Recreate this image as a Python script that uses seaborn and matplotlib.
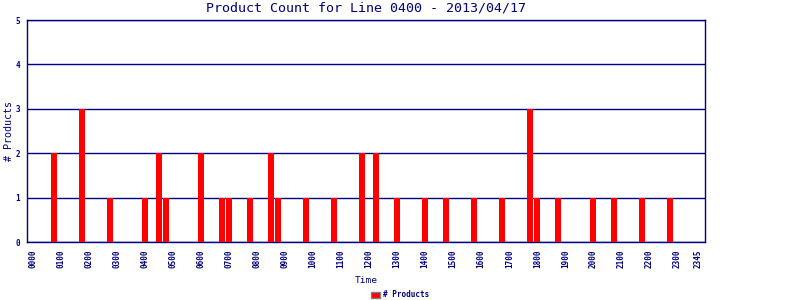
import matplotlib
matplotlib.use("Agg")
import matplotlib.pyplot as plt
import seaborn as sns
import pandas as pd
from matplotlib.patches import Patch

# 15-minute slots of the day and the product counts
slot_labels = [f"{h:02d}{m:02d}" for h in range(24) for m in (0, 15, 30, 45)]
hit_times = ["0045", "0145", "0245", "0400", "0430", "0445", "0600", "0645",
             "0700", "0745", "0830", "0845", "0945", "1045", "1145", "1215",
             "1300", "1400", "1445", "1545", "1645", "1745", "1800", "1845",
             "2000", "2045", "2145", "2245"]
hit_counts = [2, 3, 1, 1, 2, 1, 2, 1,
              1, 1, 2, 1, 1, 1, 2, 2,
              1, 1, 1, 1, 1, 3, 1, 1,
              1, 1, 1, 1]
tick_labels = [f"{h:02d}00" for h in range(24)] + ["2345"]

counts = dict(zip(hit_times, hit_counts))
df = pd.DataFrame({"Time": slot_labels,
                   "Products": [counts.get(t, 0) for t in slot_labels]})

NAVY = "#000080"
sns.set_theme(style="white")
plt.rcParams["font.family"] = ["DejaVu Sans Mono", "DejaVu Sans"]

fig = plt.figure(figsize=(8, 3), dpi=100)
ax = fig.add_axes([0.0334, 0.193, 0.8483, 0.740])

sns.barplot(data=df, x="Time", y="Products", order=slot_labels, color="#ff0000",
            saturation=1, width=0.86, ax=ax, zorder=3, linewidth=0)

ax.set_ylim(0, 5)
ax.set_xlim(-0.9, 96.0)
ax.set_yticks(range(6))
ax.set_yticklabels([str(i) for i in range(6)], fontsize=5.5, fontweight="bold", color=NAVY)
pos = [slot_labels.index(t) for t in tick_labels]
ax.set_xticks(pos)
ax.set_xticklabels(tick_labels, rotation=90, fontsize=5.5, fontweight="bold", color=NAVY)
ax.tick_params(axis="both", length=0, pad=5)
ax.yaxis.grid(True, color=NAVY, linewidth=1.0, zorder=1)
ax.set_axisbelow(True)
for s in ax.spines.values():
    s.set_color(NAVY)
    s.set_linewidth(1.0)
    s.set_visible(True)

ax.set_title("Product Count for Line 0400 - 2013/04/17", fontsize=9.6, color=NAVY, pad=6)
ax.set_xlabel("Time", fontsize=6.8, color=NAVY, labelpad=6)
ax.set_ylabel("# Products", fontsize=7.2, color=NAVY, labelpad=1)

fig.legend(handles=[Patch(facecolor="#ff0000", edgecolor="#808080", label="# Products")],
           loc="center", bbox_to_anchor=(0.5, 0.017), frameon=False,
           fontsize=5.5, handlelength=1.2, handleheight=0.9, handletextpad=0.3,
           labelcolor=NAVY, prop={"weight": "bold", "size": 5.5})

fig.savefig("out.png", dpi=100)
